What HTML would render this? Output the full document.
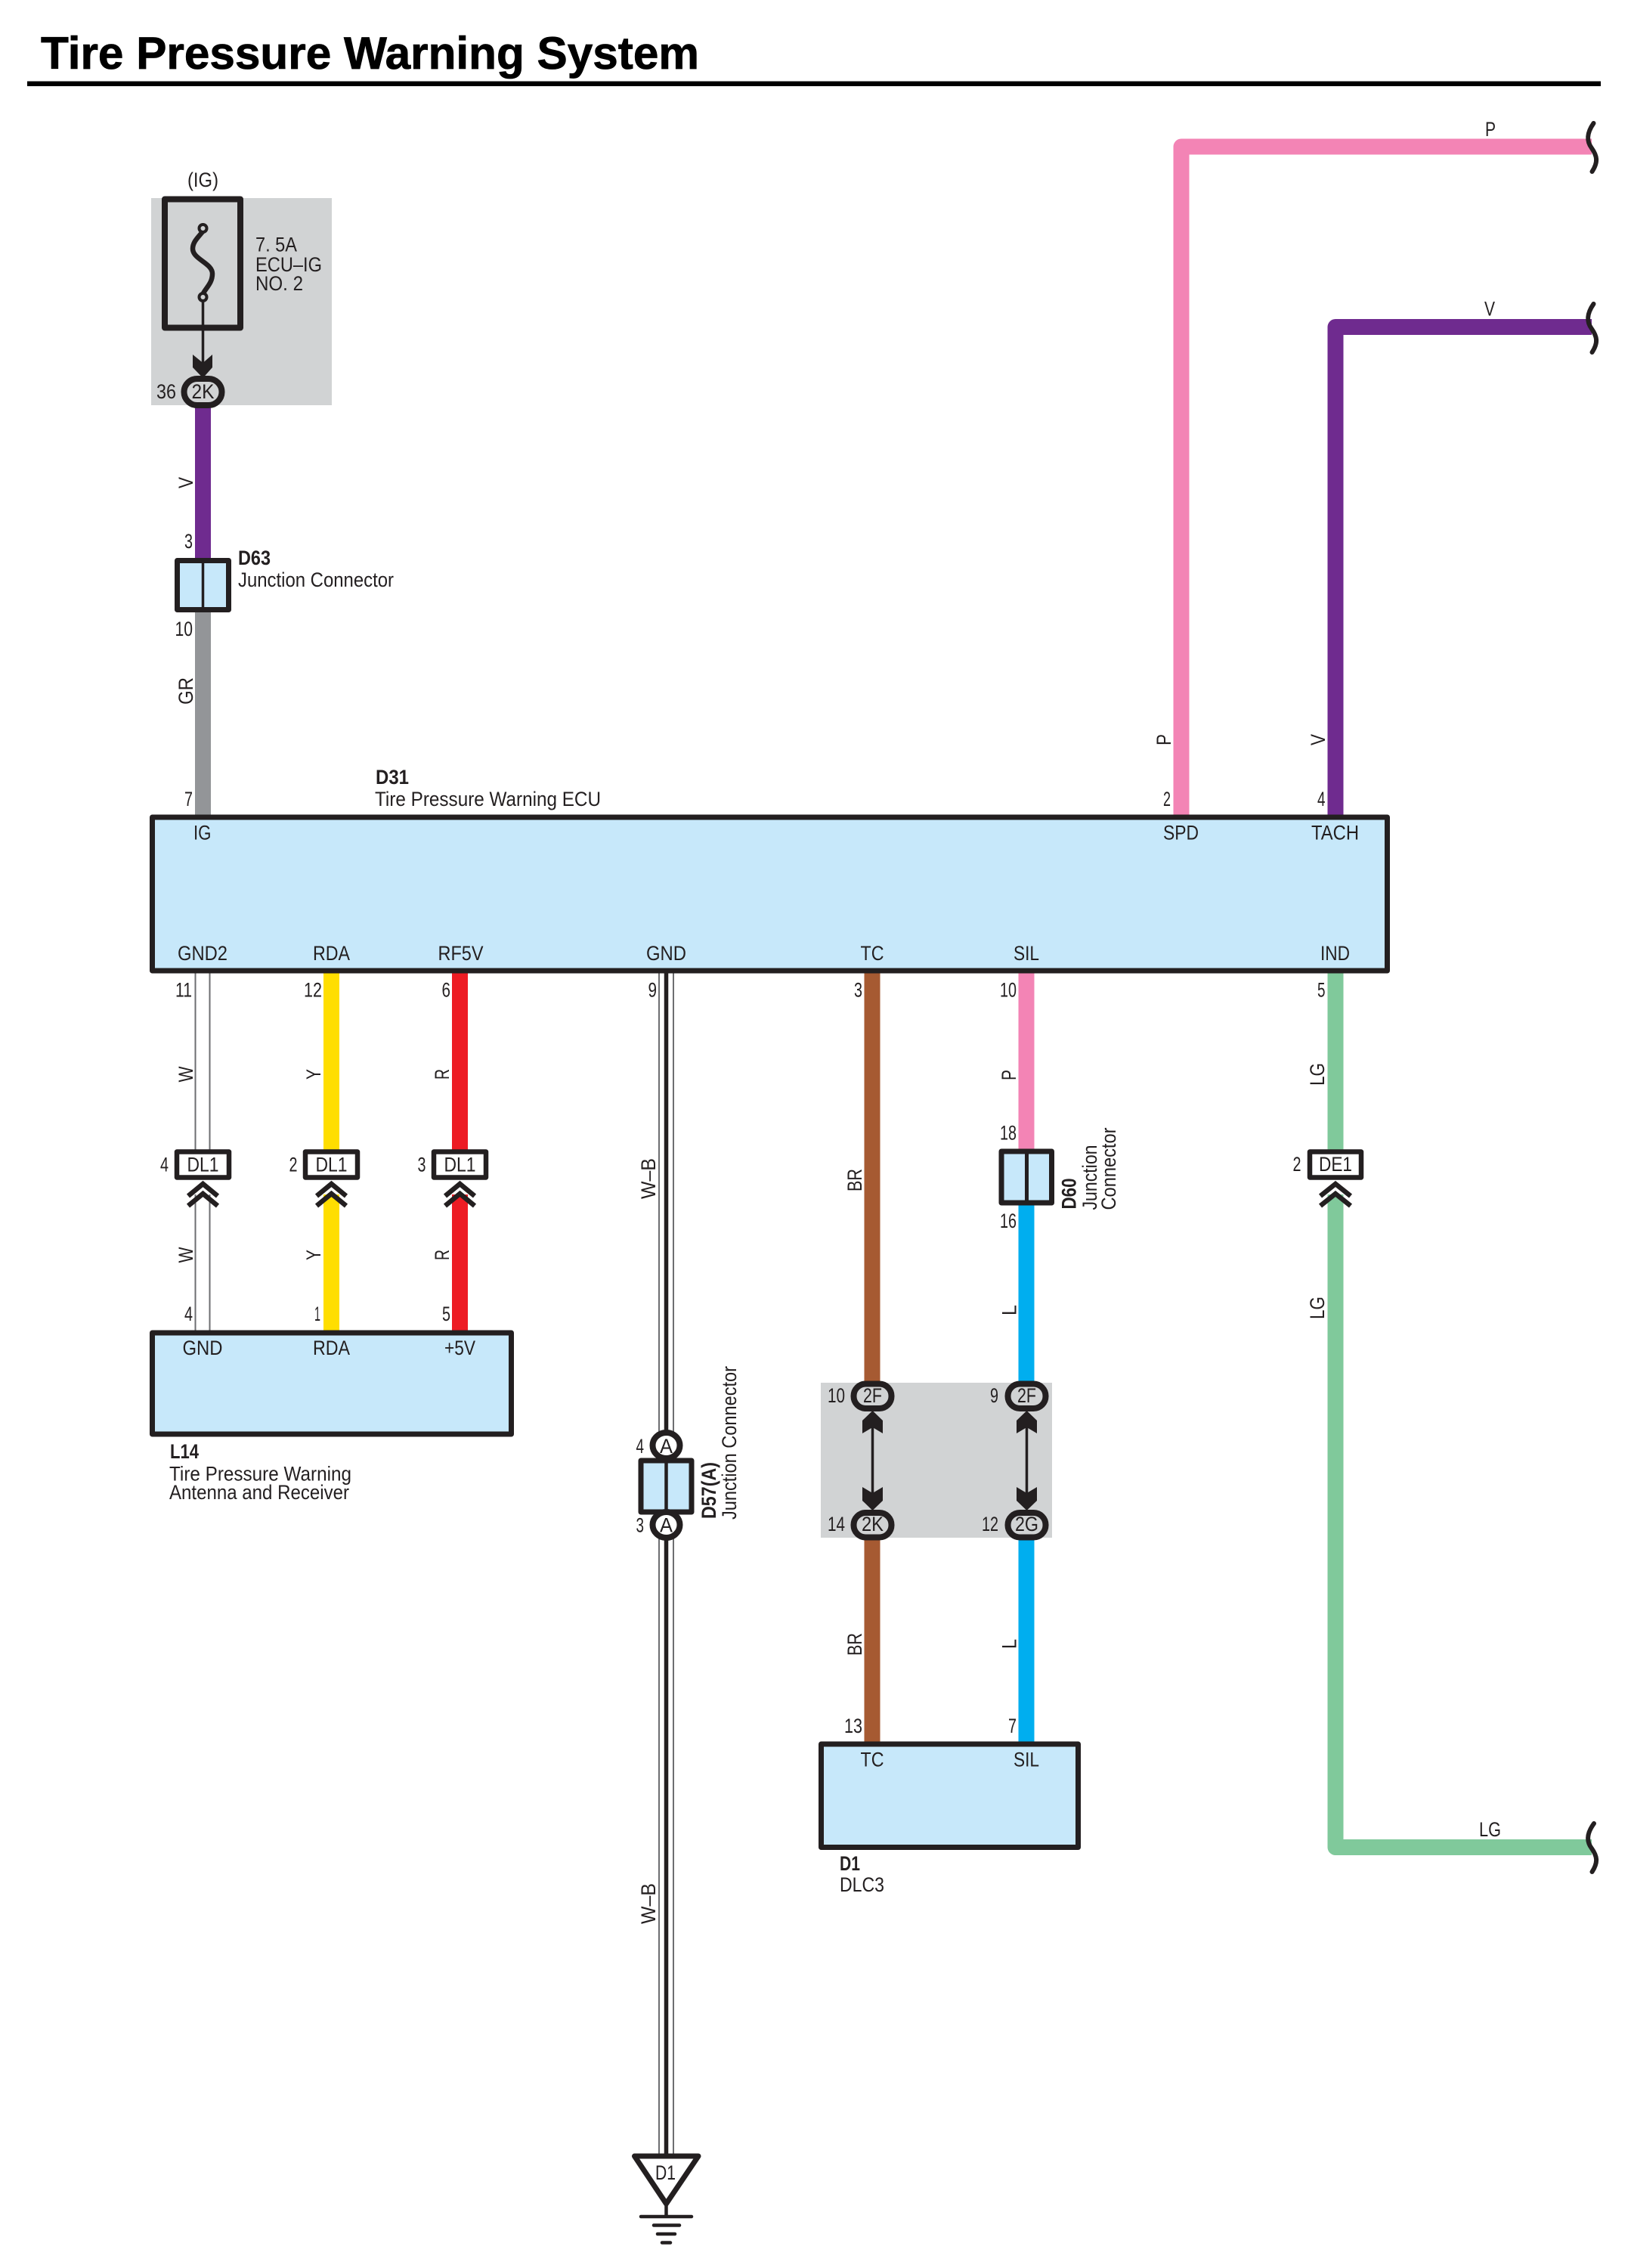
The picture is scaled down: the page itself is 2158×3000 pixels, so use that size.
<!DOCTYPE html>
<html><head><meta charset="utf-8"><title>Tire Pressure Warning System</title>
<style>
html,body{margin:0;padding:0;background:#fff}
svg{display:block}
text{font-family:"Liberation Sans",sans-serif;font-size:26.5px;fill:#231f20}
.b{font-weight:bold}
.w{fill:none;stroke-width:21;stroke-linejoin:round}
.k{fill:none;stroke:#231f20}
.box{fill:#c7e8fa;stroke:#231f20;stroke-width:7;stroke-linejoin:round}
.ov{stroke:#231f20;stroke-width:8;fill:#d1d3d4}
.ow{stroke:#231f20;stroke-width:8;fill:#fff}
.t{stroke:#6d6e71;stroke-width:2;fill:none}
</style></head><body>
<svg xmlns="http://www.w3.org/2000/svg" width="2158" height="3000" viewBox="0 0 2158 3000">
<rect width="2158" height="3000" fill="#fff"/>
<text class="b" x="54" y="91" style="font-size:60px;stroke:#000;stroke-width:.8;fill:#000" textLength="871" lengthAdjust="spacingAndGlyphs">Tire Pressure Warning System</text>
<rect x="36" y="107.500" width="2082" height="6.500" fill="#000"/>

<!-- gray relay blocks -->
<rect x="200" y="262" width="239" height="274" fill="#d1d3d4"/>
<rect x="1086" y="1829" width="306" height="205" fill="#d1d3d4"/>

<!-- wires -->
<path class="w" stroke="#6f2b8f" d="M268.500 535V740"/>
<path class="w" stroke="#939598" d="M268.500 810V1080"/>
<path class="w" stroke="#f384b5" d="M1563 1080V194H2106"/>
<path class="w" stroke="#6f2b8f" d="M1767 1080V432.500H2106"/>
<path class="w" stroke="#ffde00" d="M438.500 1286V1522M438.500 1580V1762"/>
<path class="w" stroke="#ed1c24" d="M608.500 1286V1522M608.500 1580V1762"/>
<path class="w" stroke="#a65a32" d="M1154 1286V1830M1154 2035V2306"/>
<path class="w" stroke="#f384b5" d="M1358 1286V1522"/>
<path class="w" stroke="#00aeef" d="M1358 1592V1830M1358 2035V2306"/>
<path class="w" stroke="#80c99b" d="M1767 1286V1522M1767 1580V2443.500H2106"/>
<!-- W wire -->
<path class="t" d="M258.500 1286V1522M277.500 1286V1522M258.500 1580V1762M277.500 1580V1762"/>
<!-- W-B wire -->
<path class="t" d="M872 1286V2853M891 1286V2853"/>
<path class="k" stroke-width="5.500" d="M881.500 1286V2853"/>

<!-- squiggles -->
<path class="k" stroke-width="6" stroke-linecap="round" d="M2108.500 163C2098 178 2100 188 2106 196C2113 206 2115 214 2106.500 227"/>
<path class="k" stroke-width="6" stroke-linecap="round" d="M2108.500 402C2098 417 2100 427 2106 435C2113 445 2115 453 2106.500 466"/>
<path class="k" stroke-width="6" stroke-linecap="round" d="M2109 2412C2098 2427 2100 2437 2106 2445C2113 2455 2115 2463 2106.500 2476"/>

<!-- fuse -->
<rect x="218" y="263.500" width="100" height="170" fill="#d1d3d4" stroke="#231f20" stroke-width="8" stroke-linejoin="round"/>
<path class="k" stroke-width="6.500" d="M268.500 306C262 314 255 320 255 329C255 343 281 348 281 362C281 375 272 381 268.500 389"/>
<circle cx="268.500" cy="302" r="5" fill="#d1d3d4" stroke="#231f20" stroke-width="4"/>
<circle cx="268.500" cy="393" r="5" fill="#d1d3d4" stroke="#231f20" stroke-width="4"/>
<path class="k" stroke-width="3.500" d="M268.500 398V490"/>
<path fill="#231f20" d="M255 469L268.500 480L281 469V486L268.500 500L255 486Z"/>
<rect class="ov" x="243.500" y="501" width="50" height="35" rx="17.500" ry="17.500"/>
<text x="253.500" y="527" textLength="30" lengthAdjust="spacingAndGlyphs">2K</text>
<text x="207" y="527" textLength="26" lengthAdjust="spacingAndGlyphs">36</text>
<text x="248" y="247" textLength="41" lengthAdjust="spacingAndGlyphs">(IG)</text>
<text x="338" y="332.500" textLength="55" lengthAdjust="spacingAndGlyphs">7. 5A</text>
<text x="338" y="359" textLength="88" lengthAdjust="spacingAndGlyphs">ECU–IG</text>
<text x="338" y="384" textLength="63" lengthAdjust="spacingAndGlyphs">NO. 2</text>

<text transform="translate(255,646) rotate(-90)" textLength="15" lengthAdjust="spacingAndGlyphs">V</text>
<text x="244" y="725" textLength="11" lengthAdjust="spacingAndGlyphs">3</text>
<rect class="box" x="234.500" y="741.500" width="68" height="65"/>
<path class="k" stroke-width="3.500" d="M268.500 741V807"/>
<text class="b" x="315" y="747" textLength="43" lengthAdjust="spacingAndGlyphs">D63</text>
<text x="315" y="776" textLength="206" lengthAdjust="spacingAndGlyphs">Junction Connector</text>
<text x="231.500" y="841" textLength="23.500" lengthAdjust="spacingAndGlyphs">10</text>
<text transform="translate(255,932) rotate(-90)" textLength="36" lengthAdjust="spacingAndGlyphs">GR</text>
<text x="244" y="1066" textLength="11" lengthAdjust="spacingAndGlyphs">7</text>

<!-- ECU -->
<rect class="box" x="201.500" y="1081" width="1634" height="203"/>
<text class="b" x="497" y="1037" textLength="44" lengthAdjust="spacingAndGlyphs">D31</text>
<text x="496" y="1066" textLength="299" lengthAdjust="spacingAndGlyphs">Tire Pressure Warning ECU</text>
<text x="256" y="1110.500" textLength="23.500" lengthAdjust="spacingAndGlyphs">IG</text>
<text x="1539" y="1110.500" textLength="47" lengthAdjust="spacingAndGlyphs">SPD</text>
<text x="1735" y="1110.500" textLength="63" lengthAdjust="spacingAndGlyphs">TACH</text>
<text x="1539" y="1066" textLength="10" lengthAdjust="spacingAndGlyphs">2</text>
<text x="1743" y="1066" textLength="10.500" lengthAdjust="spacingAndGlyphs">4</text>
<text transform="translate(1549,986) rotate(-90)" textLength="15" lengthAdjust="spacingAndGlyphs">P</text>
<text transform="translate(1753,986) rotate(-90)" textLength="15" lengthAdjust="spacingAndGlyphs">V</text>
<text x="1965" y="180" textLength="14" lengthAdjust="spacingAndGlyphs">P</text>
<text x="1964" y="417.500" textLength="14" lengthAdjust="spacingAndGlyphs">V</text>
<text x="1957" y="2429" textLength="29" lengthAdjust="spacingAndGlyphs">LG</text>

<text x="235" y="1270" textLength="66" lengthAdjust="spacingAndGlyphs">GND2</text>
<text x="414" y="1270" textLength="49" lengthAdjust="spacingAndGlyphs">RDA</text>
<text x="579.500" y="1270" textLength="60" lengthAdjust="spacingAndGlyphs">RF5V</text>
<text x="855" y="1270" textLength="53" lengthAdjust="spacingAndGlyphs">GND</text>
<text x="1138.500" y="1270" textLength="31" lengthAdjust="spacingAndGlyphs">TC</text>
<text x="1341" y="1270" textLength="34" lengthAdjust="spacingAndGlyphs">SIL</text>
<text x="1747" y="1270" textLength="39" lengthAdjust="spacingAndGlyphs">IND</text>

<text x="232" y="1318.500" textLength="22" lengthAdjust="spacingAndGlyphs">11</text>
<text x="402" y="1318.500" textLength="24" lengthAdjust="spacingAndGlyphs">12</text>
<text x="584.500" y="1318.500" textLength="11.500" lengthAdjust="spacingAndGlyphs">6</text>
<text x="857.500" y="1318.500" textLength="11.500" lengthAdjust="spacingAndGlyphs">9</text>
<text x="1130" y="1318.500" textLength="11" lengthAdjust="spacingAndGlyphs">3</text>
<text x="1323" y="1318.500" textLength="22" lengthAdjust="spacingAndGlyphs">10</text>
<text x="1743" y="1318.500" textLength="10.500" lengthAdjust="spacingAndGlyphs">5</text>

<text transform="translate(255,1431.500) rotate(-90)" textLength="21" lengthAdjust="spacingAndGlyphs">W</text>
<text transform="translate(424,1428) rotate(-90)" textLength="14" lengthAdjust="spacingAndGlyphs">Y</text>
<text transform="translate(594,1428) rotate(-90)" textLength="14" lengthAdjust="spacingAndGlyphs">R</text>
<text transform="translate(867,1586) rotate(-90)" textLength="54" lengthAdjust="spacingAndGlyphs">W–B</text>
<text transform="translate(1140,1576) rotate(-90)" textLength="30" lengthAdjust="spacingAndGlyphs">BR</text>
<text transform="translate(1344,1429) rotate(-90)" textLength="14" lengthAdjust="spacingAndGlyphs">P</text>
<text transform="translate(1752,1436) rotate(-90)" textLength="30" lengthAdjust="spacingAndGlyphs">LG</text>

<!-- DL1 connectors -->
<g stroke-linejoin="round">
<rect class="ow" style="stroke-width:6.500" x="234" y="1523.500" width="69" height="34"/>
<rect class="ow" style="stroke-width:6.500" x="404" y="1523.500" width="69" height="34"/>
<rect class="ow" style="stroke-width:6.500" x="574" y="1523.500" width="69" height="34"/>
<rect class="ow" style="stroke-width:6.500" x="1733" y="1523.500" width="68" height="34"/>
</g>
<text x="247.500" y="1549.500" textLength="42" lengthAdjust="spacingAndGlyphs">DL1</text>
<text x="417.500" y="1549.500" textLength="42" lengthAdjust="spacingAndGlyphs">DL1</text>
<text x="587.500" y="1549.500" textLength="42" lengthAdjust="spacingAndGlyphs">DL1</text>
<text x="1745" y="1549" textLength="44" lengthAdjust="spacingAndGlyphs">DE1</text>
<text x="212" y="1549.500" textLength="11" lengthAdjust="spacingAndGlyphs">4</text>
<text x="382.500" y="1549.500" textLength="11" lengthAdjust="spacingAndGlyphs">2</text>
<text x="552.500" y="1549.500" textLength="11" lengthAdjust="spacingAndGlyphs">3</text>
<text x="1710.500" y="1549" textLength="11" lengthAdjust="spacingAndGlyphs">2</text>
<!-- chevrons -->
<path class="k" stroke-width="6.500" d="M249 1582L268.500 1566L288 1582M249 1595L268.500 1579L288 1595"/>
<path class="k" stroke-width="6.500" d="M419 1582L438.500 1566L458 1582M419 1595L438.500 1579L458 1595"/>
<path class="k" stroke-width="6.500" d="M589 1582L608.500 1566L628 1582M589 1595L608.500 1579L628 1595"/>
<path class="k" stroke-width="6.500" d="M1747 1582L1767 1566L1787 1582M1747 1595L1767 1579L1787 1595"/>

<text transform="translate(255,1670.500) rotate(-90)" textLength="21" lengthAdjust="spacingAndGlyphs">W</text>
<text transform="translate(424,1667) rotate(-90)" textLength="14" lengthAdjust="spacingAndGlyphs">Y</text>
<text transform="translate(594,1667) rotate(-90)" textLength="14" lengthAdjust="spacingAndGlyphs">R</text>
<text transform="translate(1344.500,1740) rotate(-90)" textLength="14" lengthAdjust="spacingAndGlyphs">L</text>
<text transform="translate(1752,1745) rotate(-90)" textLength="30" lengthAdjust="spacingAndGlyphs">LG</text>
<text x="244" y="1747" textLength="11" lengthAdjust="spacingAndGlyphs">4</text>
<text x="416" y="1747" textLength="8" lengthAdjust="spacingAndGlyphs">1</text>
<text x="585" y="1747" textLength="11" lengthAdjust="spacingAndGlyphs">5</text>

<!-- L14 -->
<rect class="box" x="201.500" y="1763" width="475" height="134"/>
<text x="241.500" y="1792" textLength="53" lengthAdjust="spacingAndGlyphs">GND</text>
<text x="414" y="1792" textLength="49" lengthAdjust="spacingAndGlyphs">RDA</text>
<text x="588" y="1792" textLength="41" lengthAdjust="spacingAndGlyphs">+5V</text>
<text class="b" x="225" y="1929" textLength="38" lengthAdjust="spacingAndGlyphs">L14</text>
<text x="224" y="1958.500" textLength="241" lengthAdjust="spacingAndGlyphs">Tire Pressure Warning</text>
<text x="224" y="1983" textLength="238" lengthAdjust="spacingAndGlyphs">Antenna and Receiver</text>

<!-- D60 -->
<rect class="box" x="1325" y="1523" width="66.500" height="68"/>
<path class="k" stroke-width="5" d="M1358.500 1523V1591"/>
<text x="1323" y="1507.500" textLength="22" lengthAdjust="spacingAndGlyphs">18</text>
<text x="1323" y="1624" textLength="22" lengthAdjust="spacingAndGlyphs">16</text>
<text class="b" transform="translate(1423.500,1599.500) rotate(-90)" textLength="41" lengthAdjust="spacingAndGlyphs">D60</text>
<text transform="translate(1451,1600.500) rotate(-90)" textLength="86" lengthAdjust="spacingAndGlyphs">Junction</text>
<text transform="translate(1476,1600.500) rotate(-90)" textLength="109" lengthAdjust="spacingAndGlyphs">Connector</text>

<!-- D57 -->
<rect class="box" x="848" y="1932" width="67" height="68"/>
<path class="k" stroke-width="4.500" d="M881.500 1932V2000"/>
<ellipse class="ow" cx="881.500" cy="1912" rx="18" ry="17"/>
<ellipse class="ow" cx="881.500" cy="2017" rx="18" ry="17"/>
<text x="873" y="1922" textLength="17" lengthAdjust="spacingAndGlyphs">A</text>
<text x="873" y="2026.500" textLength="17" lengthAdjust="spacingAndGlyphs">A</text>
<text x="841.500" y="1922" textLength="10.500" lengthAdjust="spacingAndGlyphs">4</text>
<text x="841.500" y="2026.500" textLength="10.500" lengthAdjust="spacingAndGlyphs">3</text>
<text class="b" transform="translate(947,2009) rotate(-90)" textLength="75" lengthAdjust="spacingAndGlyphs">D57(A)</text>
<text transform="translate(974,2010) rotate(-90)" textLength="203" lengthAdjust="spacingAndGlyphs">Junction Connector</text>
<text transform="translate(867,2545) rotate(-90)" textLength="54" lengthAdjust="spacingAndGlyphs">W–B</text>

<!-- 2F / 2K / 2G -->
<path class="k" stroke-width="3.500" d="M1154.500 1880V1985M1358.500 1880V1985"/>
<path fill="#231f20" d="M1154.500 1866L1168 1879V1896L1154.500 1888L1141 1896V1879Z"/>
<path fill="#231f20" d="M1358.500 1866L1372 1879V1896L1358.500 1888L1345 1896V1879Z"/>
<path fill="#231f20" d="M1141 1967L1154.500 1975L1168 1967V1985L1154.500 1998L1141 1985Z"/>
<path fill="#231f20" d="M1345 1967L1358.500 1975L1372 1967V1985L1358.500 1998L1345 1985Z"/>
<rect class="ov" x="1129.500" y="1830.500" width="50" height="32.500" rx="16" ry="16"/>
<rect class="ov" x="1333.500" y="1830.500" width="50" height="32.500" rx="16" ry="16"/>
<rect class="ov" x="1129.500" y="2001" width="50" height="32.500" rx="16" ry="16"/>
<rect class="ov" x="1333.500" y="2001" width="50" height="32.500" rx="16" ry="16"/>
<text x="1142" y="1855" textLength="25" lengthAdjust="spacingAndGlyphs">2F</text>
<text x="1346" y="1855" textLength="25" lengthAdjust="spacingAndGlyphs">2F</text>
<text x="1140" y="2025" textLength="29" lengthAdjust="spacingAndGlyphs">2K</text>
<text x="1343" y="2025" textLength="31" lengthAdjust="spacingAndGlyphs">2G</text>
<text x="1095" y="1855" textLength="23" lengthAdjust="spacingAndGlyphs">10</text>
<text x="1310" y="1855" textLength="11" lengthAdjust="spacingAndGlyphs">9</text>
<text x="1095" y="2025" textLength="23" lengthAdjust="spacingAndGlyphs">14</text>
<text x="1299" y="2025" textLength="22" lengthAdjust="spacingAndGlyphs">12</text>
<text transform="translate(1140,2190) rotate(-90)" textLength="30" lengthAdjust="spacingAndGlyphs">BR</text>
<text transform="translate(1344.500,2181) rotate(-90)" textLength="13" lengthAdjust="spacingAndGlyphs">L</text>
<text x="1117" y="2292" textLength="24" lengthAdjust="spacingAndGlyphs">13</text>
<text x="1334" y="2292" textLength="11" lengthAdjust="spacingAndGlyphs">7</text>

<!-- D1 box -->
<rect class="box" x="1086.500" y="2307" width="340" height="136.500"/>
<text x="1138.500" y="2336.500" textLength="31" lengthAdjust="spacingAndGlyphs">TC</text>
<text x="1341" y="2336.500" textLength="34" lengthAdjust="spacingAndGlyphs">SIL</text>
<text class="b" x="1111" y="2474" textLength="27" lengthAdjust="spacingAndGlyphs">D1</text>
<text x="1111" y="2502" textLength="59" lengthAdjust="spacingAndGlyphs">DLC3</text>

<!-- ground -->
<path fill="#fff" stroke="#231f20" stroke-width="7" stroke-linejoin="round" d="M839.500 2852H924L881.500 2915Z"/>
<text x="867" y="2883" textLength="27" lengthAdjust="spacingAndGlyphs">D1</text>
<path class="k" stroke-width="4.500" stroke-linecap="round" d="M881.500 2914V2932M848 2932H915M865 2943.500H899M870 2955H893M876 2966.500H887"/>
</svg>
</body></html>
